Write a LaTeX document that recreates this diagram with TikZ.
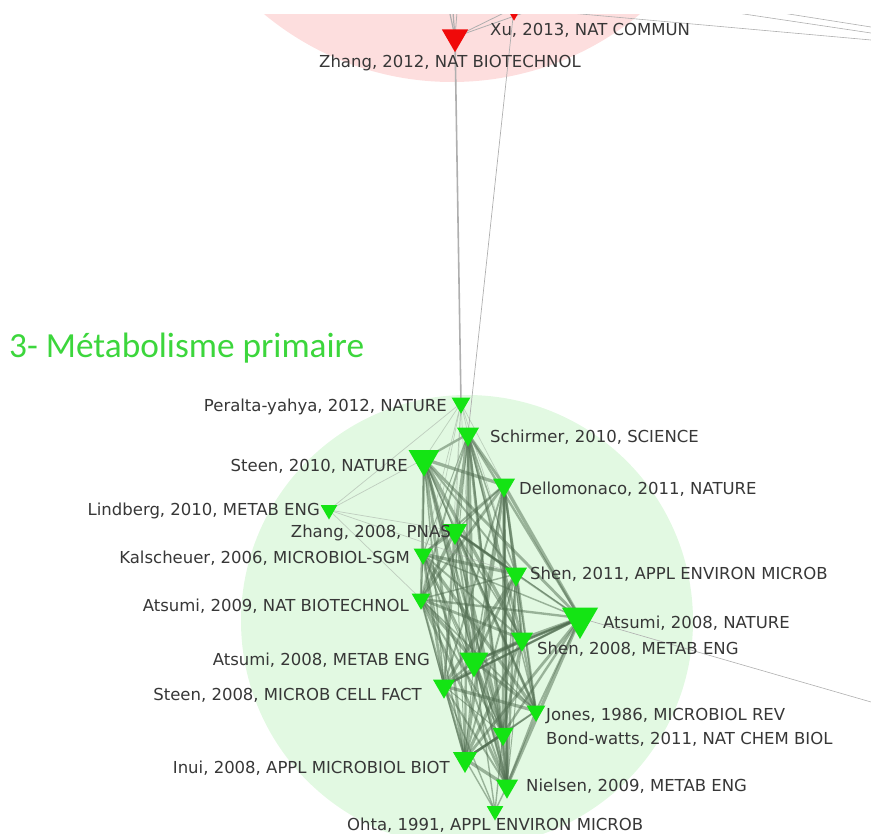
\documentclass[tikz,border=0pt]{standalone}
\usepackage{fontspec}
\setmainfont{DejaVu Sans}
\newfontfamily\titlefont{Carlito}
\usetikzlibrary{shapes.geometric}
\definecolor{trigreen}{RGB}{20,228,20}
\definecolor{lightgreen}{RGB}{226,249,226}
\definecolor{lightpink}{RGB}{253,222,222}
\definecolor{trired}{RGB}{240,10,10}
\definecolor{edgecol}{RGB}{80,108,80}
\definecolor{labcol}{RGB}{55,55,55}
\definecolor{titlecol}{RGB}{60,214,60}
\definecolor{graycol}{RGB}{175,175,175}
\pgfdeclarelayer{back}
\pgfdeclarelayer{edges}
\pgfsetlayers{back,edges,main}
\begin{document}
\begin{tikzpicture}[x=1pt,y=-1pt,
  tri/.style={regular polygon, regular polygon sides=3, shape border rotate=180,
    fill=trigreen, draw=none, inner sep=0pt, outer sep=0pt, minimum size=#1*1.27},
  redtri/.style={tri=#1, fill=trired},
  lab/.style={font=\fontsize{16.5}{19}\selectfont, text=labcol, inner sep=0pt},
  edge/.style={draw=edgecol, draw opacity=0.5},
  thinedge/.style={draw=edgecol!60, draw opacity=0.5, line width=0.7pt},
  grayedge/.style={draw=graycol, line width=0.8pt}]
\useasboundingbox (0,0) rectangle (871,834);
\begin{scope}
\clip (0,15) rectangle (871,834);
% nodes
\node[redtri=24] (zh12) at (455,37) {};
\node[redtri=20] (xu) at (514,8) {};
\coordinate (tr1) at (871,40);
\coordinate (tr2) at (871,33);
\coordinate (tr3) at (871,27);
\coordinate (tl1) at (650,0);
\coordinate (tl2) at (700,0);
\coordinate (up1) at (447,0);
\coordinate (up2) at (452,0);
\coordinate (up3) at (458,0);
\coordinate (up4) at (560,0);
\coordinate (rgt) at (871,702);

\node[tri=17] (p) at (461,403) {};
\node[tri=20] (sc) at (468,434) {};
\node[tri=28] (st10) at (424,459) {};
\node[tri=20] (d) at (504,485) {};
\node[tri=15] (l) at (329,510) {};
\node[tri=22] (z08) at (455,531) {};
\node[tri=17] (k) at (423,554) {};
\node[tri=20] (sh11) at (516,574) {};
\node[tri=17] (a09) at (421,599) {};
\node[tri=33] (a08n) at (580,618) {};
\node[tri=20] (sh08) at (522,639) {};
\node[tri=26] (a08m) at (474,661) {};
\node[tri=20] (st08) at (444,686) {};
\node[tri=17] (j) at (536,711) {};
\node[tri=19] (b) at (503,734) {};
\node[tri=22] (i) at (465,759) {};
\node[tri=20] (n) at (507,786) {};
\node[tri=15] (o) at (495,811) {};

% labels
\node[lab, anchor=west] (lxu) at (490,30) {Xu, 2013, NAT COMMUN};
\node[lab, anchor=west] (lzh12) at (319,63) {Zhang, 2012, NAT BIOTECHNOL};
\node[lab, anchor=east] (lp) at (447,407) {Peralta-yahya, 2012, NATURE};
\node[lab, anchor=west] (lsc) at (490,437) {Schirmer, 2010, SCIENCE};
\node[lab, anchor=east] (lst10) at (408,466) {Steen, 2010, NATURE};
\node[lab, anchor=west] (ld) at (519,489) {Dellomonaco, 2011, NATURE};
\node[lab, anchor=east] (ll) at (320,511) {Lindberg, 2010, METAB ENG};
\node[lab, anchor=east] (lz08) at (451,533) {Zhang, 2008, PNAS};
\node[lab, anchor=east] (lk) at (410,558) {Kalscheuer, 2006, MICROBIOL-SGM};
\node[lab, anchor=west] (lsh11) at (530,574) {Shen, 2011, APPL ENVIRON MICROB};
\node[lab, anchor=east] (la09) at (409,606) {Atsumi, 2009, NAT BIOTECHNOL};
\node[lab, anchor=west] (la08n) at (603,623) {Atsumi, 2008, NATURE};
\node[lab, anchor=west] (lsh08) at (537,649) {Shen, 2008, METAB ENG};
\node[lab, anchor=east] (la08m) at (430,660) {Atsumi, 2008, METAB ENG};
\node[lab, anchor=east] (lst08) at (422,695) {Steen, 2008, MICROB CELL FACT};
\node[lab, anchor=west] (lj) at (546,716) {Jones, 1986, MICROBIOL REV};
\node[lab, anchor=west] (lb) at (546,739) {Bond-watts, 2011, NAT CHEM BIOL};
\node[lab, anchor=east] (li) at (450,768) {Inui, 2008, APPL MICROBIOL BIOT};
\node[lab, anchor=west] (ln) at (526,786) {Nielsen, 2009, METAB ENG};
\node[lab, anchor=west] (lo) at (347,825) {Ohta, 1991, APPL ENVIRON MICROB};

\node[anchor=west, inner sep=0pt, text=titlecol, font=\titlefont\fontsize{35.3}{41}\selectfont] (title) at (9,348) {3- Métabolisme primaire};
\end{scope}

% background circles
\begin{pgfonlayer}{back}
\begin{scope}
\clip (0,15) rectangle (871,834);
\fill[lightpink] (452,-212) circle (294);
\fill[lightgreen] (467,621) circle (226);
\end{scope}
\end{pgfonlayer}

% edges
\begin{pgfonlayer}{edges}
\begin{scope}
\clip (0,15) rectangle (871,834);
\draw[grayedge, line width=1.6pt] (zh12.center) -- (p.center);
\draw[grayedge, line width=0.7pt] (xu.center) -- (sc.center);
\draw[grayedge] (zh12.center) -- (xu.center);
\draw[grayedge] (zh12.center) -- (up4);
\draw[grayedge, line width=1.2pt] (zh12.center) -- (up1);
\draw[grayedge, line width=1.2pt] (zh12.center) -- (up2);
\draw[grayedge] (zh12.center) -- (up3);
\draw[grayedge, line width=0.6pt] (xu.center) -- (tr1);
\draw[grayedge, line width=0.6pt] (tl1) -- (tr2);
\draw[grayedge, line width=0.6pt] (tl2) -- (tr3);
\draw[grayedge, line width=0.6pt] (a08n.center) -- (rgt);

\foreach \a [count=\ii] in {sc,st10,d,z08,k,sh11,a09,a08n,sh08,a08m,st08,j,b,i,n}{
  \foreach \b [count=\jj] in {sc,st10,d,z08,k,sh11,a09,a08n,sh08,a08m,st08,j,b,i,n}{
    \ifnum\jj>\ii
      \pgfmathsetmacro\w{1.0+mod(\ii*7+\jj*13,6)*0.45}
      \draw[edge, line width=\w pt] (\a.center) -- (\b.center);
    \fi
  }
}
\foreach \b in {sc,st10,d,z08,k,a09,sh11,a08m,st08}{
  \draw[thinedge] (p.center) -- (\b.center);
}
\foreach \b in {n,i,b,st08,a08m}{
  \draw[edge, line width=1.4pt] (o.center) -- (\b.center);
}
\foreach \b in {st10,p,z08,sh11,a09}{
  \draw[thinedge, draw=graycol!80!edgecol] (l.center) -- (\b.center);
}
\draw[edge, line width=2.6pt, draw opacity=0.7] (a08n.center) -- (a08m.center);
\draw[edge, line width=2.6pt, draw opacity=0.7] (d.center) -- (n.center);
\draw[edge, line width=2.4pt, draw opacity=0.7] (a08n.center) -- (st08.center);
\draw[edge, line width=2.4pt, draw opacity=0.7] (b.center) -- (i.center);
\draw[edge, line width=2.2pt, draw opacity=0.7] (sh11.center) -- (z08.center);
\end{scope}
\end{pgfonlayer}
\end{tikzpicture}
\end{document}
